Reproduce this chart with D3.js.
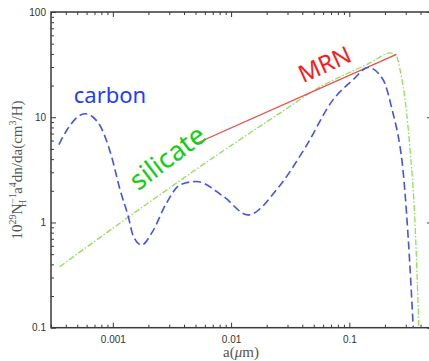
<!DOCTYPE html>
<html>
<head>
<meta charset="utf-8">
<script src="https://cdn.jsdelivr.net/npm/d3@7"></script>
<style>
  body { margin: 0; background: #fff; }
  svg { display: block; }
</style>
</head>
<body>
<div id="chart"></div>
<script>
// grain size (micron) and 10^29 N_H^-1 a^4 dn/da
const carbonA = [3.5e-4, 4.1e-4, 5.8e-4, 7.5e-4, 9.75e-4, 1.15e-3, 1.35e-3, 1.49e-3, 1.75e-3, 2.14e-3, 2.85e-3, 3.7e-3, 5.1e-3, 8.6e-3, 0.0139, 0.025, 0.0423, 0.073, 0.108, 0.144, 0.193, 0.23, 0.269, 0.278, 0.314, 0.347];
const carbonV = [5.5, 7.6, 10.8, 8.9, 4.24, 2.05, 1.14, 0.74, 0.61, 0.80, 1.54, 2.28, 2.45, 1.77, 1.18, 2.14, 5.13, 14.7, 22.8, 29.7, 22.7, 11.8, 5.13, 3.95, 0.736, 0.1];

const silicateA = [3.55e-4, 2.07e-3, 6.65e-3, 0.026, 0.0513, 0.151, 0.222, 0.251, 0.268, 0.305, 0.325, 0.358, 0.387];
const silicateV = [0.38, 1.58, 3.95, 11.0, 18.2, 33.0, 40.8, 37.8, 28.5, 11.0, 5.13, 1.06, 0.1];

const mrnA = [0.005, 0.25];
const mrnV = [5.6, 39.6];

const xTicks = [0.001, 0.01, 0.1];
const xTickLabels = ["0.001", "0.01", "0.1"];
const yTicks = [0.1, 1, 10, 100];
const yTickLabels = ["0.1", "1", "10", "100"];

const width = 429, height = 361;
const plotLeft = 51, plotRight = 432, plotTop = 12, plotBottom = 327.7;

const svg = d3.select("#chart")
  .append("svg")
  .attr("width", width)
  .attr("height", height);

const x = d3.scaleLog().domain([3e-4, 0.5]).range([plotLeft, plotRight]);
const y = d3.scaleLog().domain([0.1, 100]).range([plotBottom, plotTop]);

const axisColor = "#3a3a3a";

// minor ticks = log ticks that are not decades
const minorX = x.ticks().filter(t => !xTicks.some(m => Math.abs(m - t) / m < 1e-6));
const minorY = y.ticks().filter(t => !yTicks.some(m => Math.abs(m - t) / m < 1e-6));

function styleAxis(g) {
  g.select(".domain").remove();
  g.selectAll(".tick line").attr("stroke", axisColor).attr("stroke-width", 1);
  g.selectAll(".tick text")
    .attr("fill", "#333")
    .style("font-family", "'Liberation Sans', Arial, sans-serif")
    .style("font-size", "10px");
}

// bottom
svg.append("g").attr("transform", `translate(0,${plotBottom})`)
  .call(d3.axisBottom(x).tickValues(xTicks).tickSize(-5).tickPadding(8)
    .tickFormat((d, i) => xTickLabels[i]))
  .call(styleAxis);
svg.append("g").attr("transform", `translate(0,${plotBottom})`)
  .call(d3.axisBottom(x).tickValues(minorX).tickSize(-3).tickFormat(""))
  .call(styleAxis);
// top
svg.append("g").attr("transform", `translate(0,${plotTop})`)
  .call(d3.axisTop(x).tickValues(xTicks).tickSize(-5).tickFormat(""))
  .call(styleAxis);
svg.append("g").attr("transform", `translate(0,${plotTop})`)
  .call(d3.axisTop(x).tickValues(minorX).tickSize(-3).tickFormat(""))
  .call(styleAxis);
// left
svg.append("g").attr("transform", `translate(${plotLeft},0)`)
  .call(d3.axisLeft(y).tickValues(yTicks).tickSize(-5).tickPadding(5)
    .tickFormat((d, i) => yTickLabels[i]))
  .call(styleAxis);
svg.append("g").attr("transform", `translate(${plotLeft},0)`)
  .call(d3.axisLeft(y).tickValues(minorY).tickSize(-3).tickFormat(""))
  .call(styleAxis);
// right
svg.append("g").attr("transform", `translate(${plotRight},0)`)
  .call(d3.axisRight(y).tickValues(yTicks).tickSize(-5).tickFormat(""))
  .call(styleAxis);
svg.append("g").attr("transform", `translate(${plotRight},0)`)
  .call(d3.axisRight(y).tickValues(minorY).tickSize(-3).tickFormat(""))
  .call(styleAxis);

// frame
svg.append("rect")
  .attr("x", plotLeft).attr("y", plotTop)
  .attr("width", plotRight - plotLeft).attr("height", plotBottom - plotTop)
  .attr("fill", "none")
  .attr("stroke", axisColor)
  .attr("stroke-width", 1.5);

// clip curves to the plot box
svg.append("clipPath").attr("id", "plotclip")
  .append("rect")
  .attr("x", plotLeft).attr("y", plotTop)
  .attr("width", plotRight - plotLeft).attr("height", plotBottom - plotTop);

const line = d3.line()
  .x(d => x(d[0]))
  .y(d => y(d[1]))
  .curve(d3.curveMonotoneX);

const curves = svg.append("g").attr("clip-path", "url(#plotclip)");

curves.append("path")
  .datum(silicateA.map((a, i) => [a, silicateV[i]]))
  .attr("d", line)
  .attr("fill", "none")
  .attr("stroke", "#8ee05a")
  .attr("stroke-width", 1.3)
  .attr("stroke-dasharray", "6,2,1.5,2");

curves.append("path")
  .datum(mrnA.map((a, i) => [a, mrnV[i]]))
  .attr("d", line)
  .attr("fill", "none")
  .attr("stroke", "#f04a4a")
  .attr("stroke-width", 1.3);

curves.append("path")
  .datum(carbonA.map((a, i) => [a, carbonV[i]]))
  .attr("d", line)
  .attr("fill", "none")
  .attr("stroke", "#4452ee")
  .attr("stroke-width", 1.6)
  .attr("stroke-dasharray", "8,4");

// curve labels
const labelFont = "'Noto Sans', 'Open Sans', sans-serif";

svg.append("text")
  .attr("x", 110).attr("y", 103)
  .attr("text-anchor", "middle")
  .style("font-family", labelFont)
  .style("font-size", "22px")
  .attr("fill", "#1e3cff")
  .text("carbon");

svg.append("text")
  .attr("transform", "translate(173,165) rotate(-37)")
  .attr("text-anchor", "middle")
  .style("font-family", labelFont)
  .style("font-size", "27px")
  .attr("fill", "#10d010")
  .text("silicate");

svg.append("text")
  .attr("transform", "translate(328,72) rotate(-24)")
  .attr("text-anchor", "middle")
  .style("font-family", labelFont)
  .style("font-size", "24px")
  .attr("fill", "#ff1a1a")
  .text("MRN");

// axis titles
svg.append("text")
  .attr("x", 241).attr("y", 357)
  .attr("text-anchor", "middle")
  .style("font-family", "'Liberation Serif', 'DejaVu Serif', serif")
  .style("font-size", "15px")
  .attr("fill", "#555")
  .html("a(<tspan font-style='italic'>μ</tspan>m)");

const yTitle = svg.append("text")
  .attr("transform", "translate(22,170) rotate(-90)")
  .attr("text-anchor", "middle")
  .style("font-family", "'Liberation Serif', 'DejaVu Serif', serif")
  .style("font-size", "15px")
  .attr("fill", "#555");
yTitle.append("tspan").text("10");
yTitle.append("tspan").attr("font-size", "10px").attr("dy", -6).text("29");
yTitle.append("tspan").attr("dy", 6).text("N");
yTitle.append("tspan").attr("font-size", "10px").attr("dy", -6).text("−1");
yTitle.append("tspan").attr("font-size", "10px").attr("dx", -14).attr("dy", 10).text("H");
yTitle.append("tspan").attr("dx", 6).attr("dy", -4).text("a");
yTitle.append("tspan").attr("font-size", "10px").attr("dy", -6).text("4");
yTitle.append("tspan").attr("dy", 6).text("dn/da(cm");
yTitle.append("tspan").attr("font-size", "10px").attr("dy", -6).text("3");
yTitle.append("tspan").attr("dy", 6).text("/H)");

// credit text, clipped at the bottom edge as in the source
svg.append("text")
  .attr("x", 426).attr("y", 375)
  .attr("text-anchor", "end")
  .style("font-family", labelFont)
  .style("font-size", "20px")
  .attr("fill", "#333")
  .text("C. Wang 2020");
</script>
</body>
</html>
